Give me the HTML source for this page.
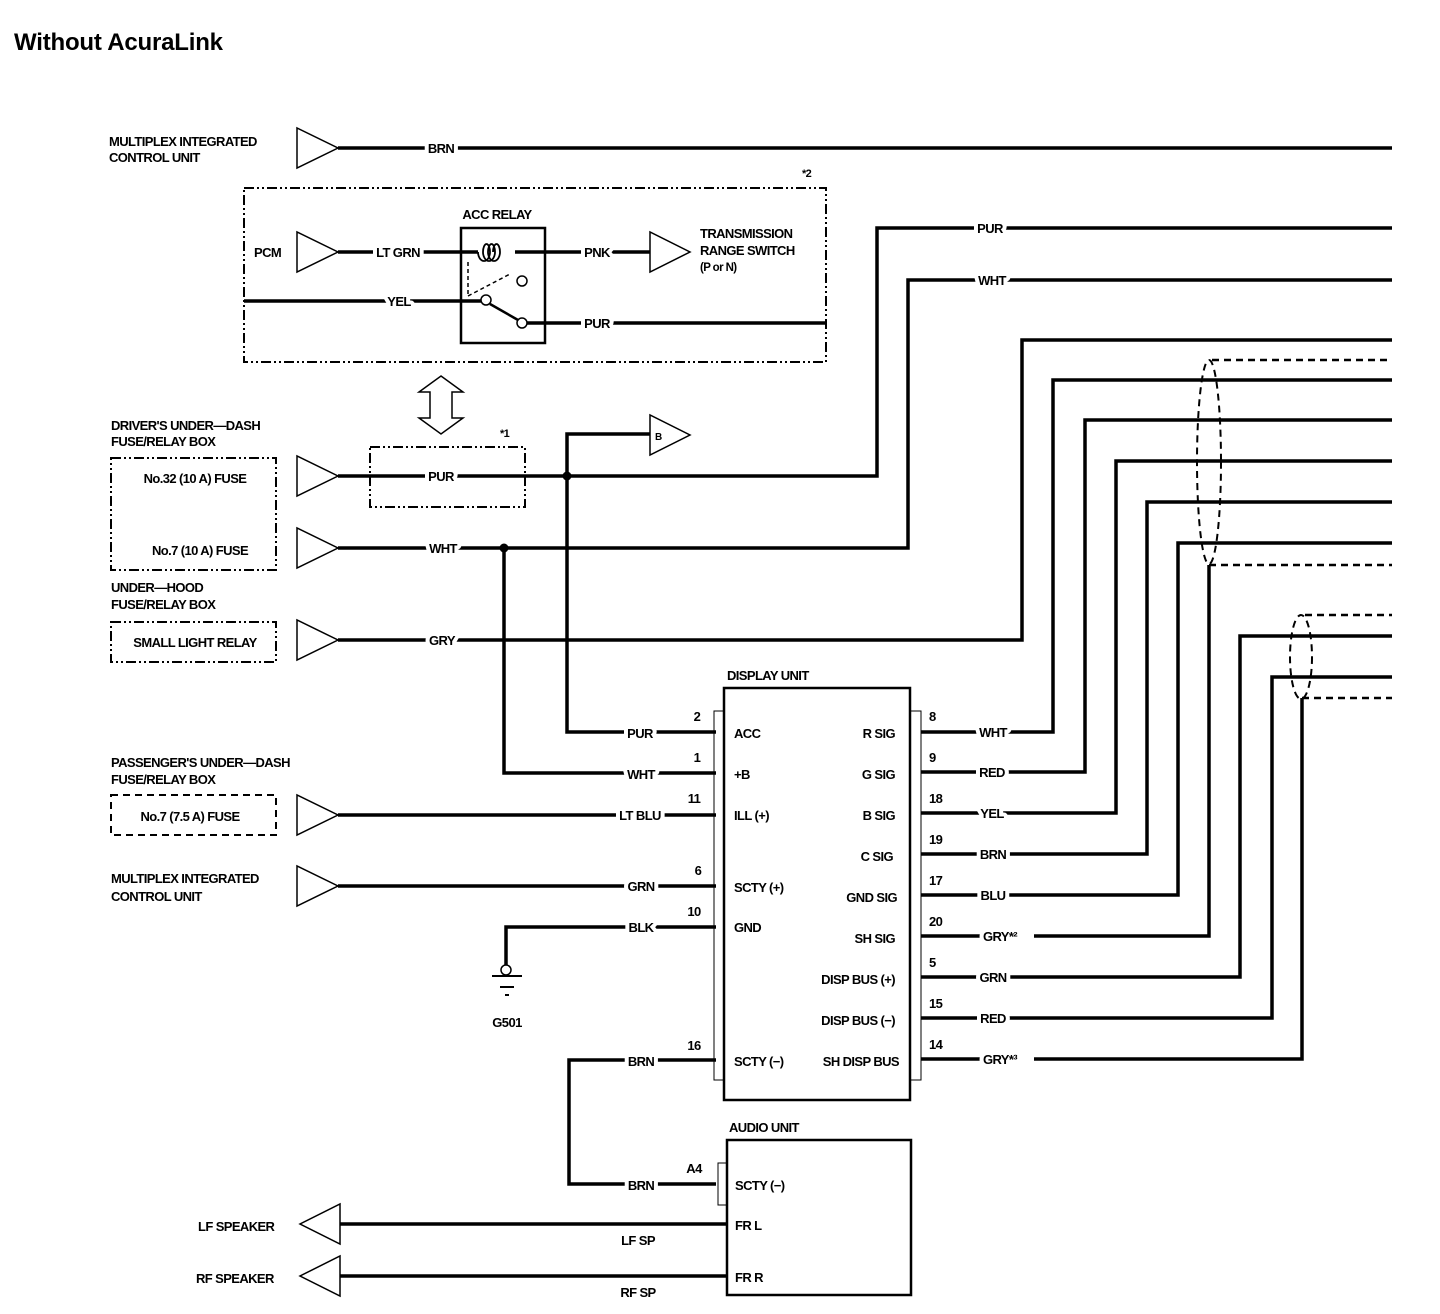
<!DOCTYPE html>
<html><head><meta charset="utf-8"><style>
html,body{margin:0;padding:0;background:#fff;}
svg{display:block;}
text{font-family:"Liberation Sans",sans-serif;font-weight:bold;font-size:13px;letter-spacing:-0.6px;fill:#000;}
.l{paint-order:stroke;stroke:#fff;stroke-width:8px;stroke-linejoin:round;}
.w{stroke:#000;stroke-width:3.5;fill:none;}
.t{stroke:#000;stroke-width:1.5;fill:#fff;}
.th{stroke:#000;stroke-width:1;fill:none;}
.d{stroke:#000;stroke-width:2;fill:none;stroke-dasharray:10,3,2,3,2,3;}
.ds{stroke:#000;stroke-width:2.5;fill:none;stroke-dasharray:7,5;}
</style></head><body>
<svg width="1440" height="1314" viewBox="0 0 1440 1314" xmlns="http://www.w3.org/2000/svg">
<text x="14" y="50" style="font-size:24px;letter-spacing:-0.2px">Without AcuraLink</text>

<path class="w" d="M338 148H1392"/>
<rect class="d" x="244" y="188" width="582" height="174"/>
<text x="802" y="177" style="font-size:11px">*2</text>
<text x="254" y="257">PCM</text>
<polygon class="t" points="297,232 297,272 338,252"/>
<path class="w" d="M338 252H478"/>
<text class="l" x="398" y="257" text-anchor="middle">LT GRN</text>
<rect x="461" y="228" width="84" height="115" fill="none" stroke="#000" stroke-width="2.5"/>
<text x="497" y="219" text-anchor="middle">ACC RELAY</text>
<path d="M478 252 a6 9 0 0 0 12 0 a3.5 8 0 0 0 -7 0 a6 9 0 0 0 12 0 a3.5 8 0 0 0 -7 0 a6 9 0 0 0 12 0 a3.5 8 0 0 0 -7 0" class="th" style="stroke-width:1.8"/>
<path class="w" d="M515 252H650"/>
<text class="l" x="597" y="257" text-anchor="middle">PNK</text>
<polygon class="t" points="650,232 650,272 690,252"/>
<text x="700" y="238">TRANSMISSION</text>
<text x="700" y="255">RANGE SWITCH</text>
<text x="700" y="271" style="font-size:11.5px">(P or N)</text>
<path d="M468 262V296 M468 296 L510 274" class="th" style="stroke-dasharray:4,3;stroke-width:1.5"/>
<circle cx="486" cy="300" r="5" class="t"/>
<circle cx="522" cy="281" r="5" class="t"/>
<circle cx="522" cy="323" r="5" class="t"/>
<path d="M490 304 L518 320" class="th" style="stroke-width:2.5"/>
<path class="w" d="M244 301H481"/>
<text class="l" x="399" y="306" text-anchor="middle">YEL</text>
<path class="w" d="M527 323H826"/>
<text class="l" x="597" y="328" text-anchor="middle">PUR</text>

<path d="M441 376 L463 392 L452 392 L452 418 L463 418 L441 434 L419 418 L430 418 L430 392 L419 392 Z" class="t"/>

<text x="109" y="146">MULTIPLEX INTEGRATED</text>
<text x="109" y="162">CONTROL UNIT</text>
<polygon class="t" points="297,128 297,168 338,148"/>
<text class="l" x="441" y="153" text-anchor="middle">BRN</text>

<text x="111" y="430">DRIVER'S UNDER—DASH</text>
<text x="111" y="446">FUSE/RELAY BOX</text>
<rect class="d" x="111" y="458" width="165" height="112"/>
<text x="195" y="483" text-anchor="middle">No.32 (10 A) FUSE</text>
<text x="200" y="555" text-anchor="middle">No.7 (10 A) FUSE</text>
<text x="111" y="592">UNDER—HOOD</text>
<text x="111" y="609">FUSE/RELAY BOX</text>
<rect class="d" x="111" y="622" width="165" height="40"/>
<text x="195" y="647" text-anchor="middle">SMALL LIGHT RELAY</text>

<rect class="d" x="370" y="447" width="155" height="60"/>
<text x="500" y="437" style="font-size:11px">*1</text>

<polygon class="t" points="297,456 297,496 338,476"/>
<polygon class="t" points="297,528 297,568 338,548"/>
<polygon class="t" points="297,620 297,660 338,640"/>

<path class="w" d="M338 476H877V228H1392"/>
<text class="l" x="441" y="481" text-anchor="middle">PUR</text>
<text class="l" x="990" y="233" text-anchor="middle">PUR</text>
<path class="w" d="M338 548H908V280H1392"/>
<text class="l" x="443" y="553" text-anchor="middle">WHT</text>
<text class="l" x="992" y="285" text-anchor="middle">WHT</text>
<path class="w" d="M338 640H1022V340H1392"/>
<text class="l" x="442" y="645" text-anchor="middle">GRY</text>

<path class="w" d="M650 434H567V732H716"/>
<circle cx="567" cy="476" r="4.5"/>
<polygon class="t" points="650,415 650,455 690,435"/>
<text x="655" y="440" style="font-size:10px">B</text>
<path class="w" d="M504 548V773H716"/>
<circle cx="504" cy="548" r="4.5"/>

<text x="727" y="680">DISPLAY UNIT</text>
<rect x="724" y="688" width="186" height="412" fill="none" stroke="#000" stroke-width="2.5"/>
<path class="th" d="M724 711H714V1080H724 M910 711H921V1080H910"/>
<text class="l" x="640" y="738" text-anchor="middle">PUR</text>
<text class="l" x="641" y="779" text-anchor="middle">WHT</text>
<text x="697" y="721" text-anchor="middle">2</text>
<text x="697" y="762" text-anchor="middle">1</text>

<text x="111" y="767">PASSENGER'S UNDER—DASH</text>
<text x="111" y="784">FUSE/RELAY BOX</text>
<rect class="ds" x="111" y="795" width="165" height="40" style="stroke-width:2"/>
<text x="190" y="821" text-anchor="middle">No.7 (7.5 A) FUSE</text>
<polygon class="t" points="297,795 297,835 338,815"/>
<path class="w" d="M338 815H716"/>
<text class="l" x="640" y="820" text-anchor="middle">LT BLU</text>
<text x="694" y="803" text-anchor="middle">11</text>

<text x="111" y="883">MULTIPLEX INTEGRATED</text>
<text x="111" y="901">CONTROL UNIT</text>
<polygon class="t" points="297,866 297,906 338,886"/>
<path class="w" d="M338 886H716"/>
<text class="l" x="641" y="891" text-anchor="middle">GRN</text>
<text x="698" y="875" text-anchor="middle">6</text>

<path class="w" d="M716 927H506V967"/>
<text class="l" x="641" y="932" text-anchor="middle">BLK</text>
<text x="694" y="916" text-anchor="middle">10</text>
<circle cx="506" cy="970" r="5" class="t"/>
<path class="th" d="M492 976H522 M500 987H514 M505 995H509" style="stroke-width:2"/>
<text x="507" y="1027" text-anchor="middle">G501</text>

<text x="734" y="738">ACC</text>
<text x="734" y="779">+B</text>
<text x="734" y="820">ILL (+)</text>
<text x="734" y="892">SCTY (+)</text>
<text x="734" y="932">GND</text>
<text x="734" y="1066">SCTY (−)</text>
<g text-anchor="end">
<text x="895" y="738">R SIG</text>
<text x="895" y="779">G SIG</text>
<text x="895" y="820">B SIG</text>
<text x="893" y="861">C SIG</text>
<text x="897" y="902">GND SIG</text>
<text x="895" y="943">SH SIG</text>
<text x="895" y="984">DISP BUS (+)</text>
<text x="895" y="1025">DISP BUS (−)</text>
<text x="899" y="1066">SH DISP BUS</text>
</g>

<path class="w" d="M921 732H1053V380H1392"/>
<path class="w" d="M921 772H1085V420H1392"/>
<path class="w" d="M921 813H1116V461H1392"/>
<path class="w" d="M921 854H1147V502H1392"/>
<path class="w" d="M921 895H1178V543H1392"/>
<path class="w" d="M921 936H1209V565"/>
<path class="w" d="M921 977H1240V636H1392"/>
<path class="w" d="M921 1018H1272V677H1392"/>
<path class="w" d="M921 1059H1302V698"/>
<path class="ds" d="M1209 565H1392 M1212 360H1392 M1302 698H1392 M1305 615H1392"/>
<ellipse class="ds" cx="1209" cy="462" rx="12" ry="102" style="stroke-width:2"/>
<ellipse class="ds" cx="1301" cy="657" rx="11" ry="42" style="stroke-width:2"/>
<g text-anchor="middle">
<text class="l" x="993" y="737">WHT</text>
<text class="l" x="992" y="777">RED</text>
<text class="l" x="992" y="818">YEL</text>
<text class="l" x="993" y="859">BRN</text>
<text class="l" x="993" y="900">BLU</text>
<text class="l" x="1000" y="941">GRY*²</text>
<text class="l" x="993" y="982">GRN</text>
<text class="l" x="993" y="1023">RED</text>
<text class="l" x="1000" y="1064">GRY*³</text>
</g>
<rect x="1020" y="928" width="14" height="14" fill="#fff"/>
<rect x="1020" y="1051" width="14" height="14" fill="#fff"/>
<g>
<text x="929" y="721">8</text><text x="929" y="762">9</text><text x="929" y="803">18</text>
<text x="929" y="844">19</text><text x="929" y="885">17</text><text x="929" y="926">20</text>
<text x="929" y="967">5</text><text x="929" y="1008">15</text><text x="929" y="1049">14</text>
</g>

<path class="w" d="M716 1060H569V1184H716"/>
<text class="l" x="641" y="1066" text-anchor="middle">BRN</text>
<text class="l" x="641" y="1190" text-anchor="middle">BRN</text>
<text x="694" y="1050" text-anchor="middle">16</text>
<text x="694" y="1173" text-anchor="middle">A4</text>

<text x="729" y="1132">AUDIO UNIT</text>
<rect x="727" y="1140" width="184" height="155" fill="none" stroke="#000" stroke-width="2.5"/>
<path class="th" d="M727 1163H718V1205H727"/>
<text x="735" y="1190">SCTY (−)</text>
<text x="735" y="1230">FR L</text>
<text x="735" y="1282">FR R</text>
<path class="w" d="M340 1224H727 M340 1276H727"/>
<polygon class="t" points="340,1204 340,1244 300,1224"/>
<polygon class="t" points="340,1256 340,1296 300,1276"/>
<text x="198" y="1231">LF SPEAKER</text>
<text x="196" y="1283">RF SPEAKER</text>
<text x="638" y="1245" text-anchor="middle">LF SP</text>
<text x="638" y="1297" text-anchor="middle">RF SP</text>
</svg>
</body></html>
